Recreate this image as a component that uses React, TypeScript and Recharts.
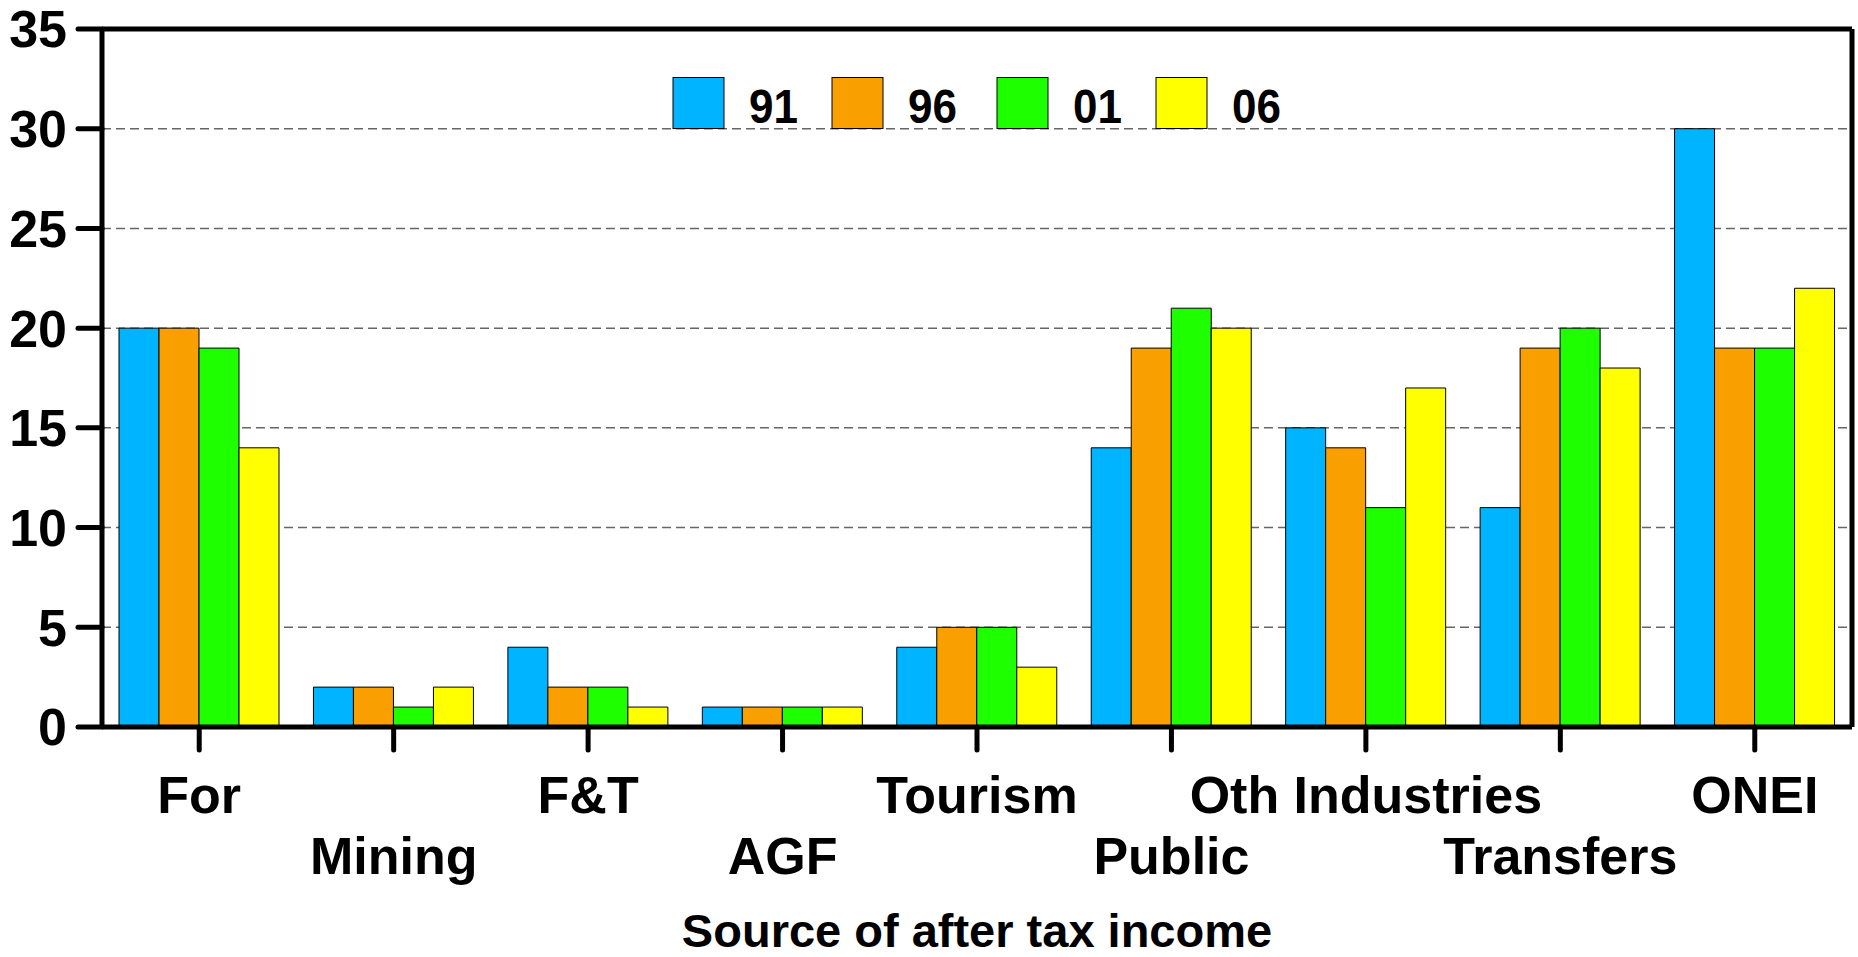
import React from "react";
import { BarChart, Bar, XAxis, YAxis, CartesianGrid, ReferenceLine, Legend } from "recharts";

const categories = ["For", "Mining", "F&T", "AGF", "Tourism", "Public", "Oth Industries", "Transfers", "ONEI"];
const years = ["91", "96", "01", "06"];
const y91 = [20, 2, 4, 1, 4, 14, 15, 11, 30];
const y96 = [20, 2, 2, 1, 5, 19, 14, 19, 19];
const y01 = [19, 1, 2, 1, 5, 21, 11, 20, 19];
const y06 = [14, 2, 1, 1, 3, 20, 17, 18, 22];
const yTicks = [0, 5, 10, 15, 20, 25, 30, 35];
const colors = ["#00B4FF", "#FA9F00", "#1EFF00", "#FFFF00"];

const data = categories.map((name, i) => ({
  name,
  s91: y91[i],
  s96: y96[i],
  s01: y01[i],
  s06: y06[i],
}));
const keys = ["s91", "s96", "s01", "s06"];

const FONT = '"Liberation Sans", Arial, Helvetica, sans-serif';

// legend swatch left edges (the original spacing is a bit uneven)
const legendLeft = [673, 832, 997, 1156];

// labels alternate between two rows
const CategoryTick = ({ x, y, payload, index }: any) => {
  const row = index % 2 === 0 ? 63 : 124;
  return (
    <text x={x} y={y + row} textAnchor="middle" fontFamily={FONT} fontWeight="bold" fontSize={52} fill="#000">
      {payload.value}
    </text>
  );
};

const LegendBlock = () => (
  <svg width={1858} height={140} style={{ display: "block" }}>
    {years.map((yr, i) => {
      const left = legendLeft[i];
      return (
        <g key={yr}>
          <rect x={left} y={77.5} width={51} height={51} fill={colors[i]} stroke="#000" strokeWidth={1} />
          <text
            x={left + 76}
            y={123}
            fontFamily={FONT}
            fontWeight="bold"
            fontSize={49}
            fill="#000"
            textLength={49}
            lengthAdjust="spacingAndGlyphs"
          >
            {yr}
          </text>
        </g>
      );
    })}
  </svg>
);

export default function App() {
  return (
    <div style={{ width: 1858, height: 957, background: "#fff" }}>
      <style>{"body{margin:0}"}</style>
      <BarChart
        width={1858}
        height={957}
        data={data}
        margin={{ top: 29, right: 0, left: 0, bottom: 0 }}
        barCategoryGap={17}
        barGap={0}
      >
        <CartesianGrid horizontal vertical={false} stroke="#666" strokeWidth={1.5} strokeDasharray="9 5" />
        <XAxis
          dataKey="name"
          height={230}
          interval={0}
          tickSize={23}
          tickMargin={0}
          axisLine={{ stroke: "#000", strokeWidth: 5 }}
          tickLine={{ stroke: "#000", strokeWidth: 5, strokeLinecap: "round" }}
          tick={<CategoryTick />}
          label={{
            value: "Source of after tax income",
            position: "insideBottom",
            offset: 10,
            fontFamily: FONT,
            fontWeight: "bold",
            fontSize: 47,
            fill: "#000",
          }}
        />
        <YAxis
          width={102}
          domain={[0, 35]}
          ticks={yTicks}
          interval={0}
          tickSize={24}
          tickMargin={11}
          axisLine={{ stroke: "#000", strokeWidth: 5 }}
          tickLine={{ stroke: "#000", strokeWidth: 5, strokeLinecap: "round" }}
          tick={{ fontFamily: FONT, fontWeight: "bold", fontSize: 52, fill: "#000" }}
        />
        <YAxis
          yAxisId="frame"
          orientation="right"
          width={6}
          domain={[0, 35]}
          tick={false}
          tickLine={false}
          axisLine={{ stroke: "#000", strokeWidth: 5 }}
        />
        <ReferenceLine y={35} stroke="#000" strokeWidth={5} />
        <Legend
          layout="horizontal"
          verticalAlign="middle"
          align="center"
          wrapperStyle={{ top: 0, left: 0, width: 1858, height: 140 }}
          content={<LegendBlock />}
        />
        {keys.map((k, i) => (
          <Bar key={k} dataKey={k} name={years[i]} fill={colors[i]} stroke="#000" strokeWidth={1} isAnimationActive={false} />
        ))}
      </BarChart>
    </div>
  );
}
